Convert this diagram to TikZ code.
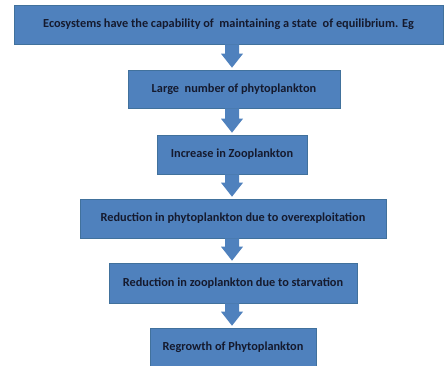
\documentclass[tikz,border=0pt]{standalone}
\usepackage{fontspec}
\setmainfont{Carlito}
\usetikzlibrary{calc}
\definecolor{boxblue}{HTML}{4F81BD}
\definecolor{boxedge}{HTML}{41719C}
\definecolor{txt}{HTML}{151A2E}
\tikzset{
  flowbox/.style={rectangle, fill=boxblue, draw=boxedge, line width=0.6pt, inner sep=0pt,
    font=\bfseries\fontsize{12.3}{14}\selectfont, text=txt, anchor=center},
  blockarrow/.style={fill=boxblue}
}
\newcommand{\flowarrow}[2]{%
  \fill[blockarrow] let \p1=(#1.south), \p2=(#2.north) in
    (225pt,\y1) -- (239pt,\y1) -- (239pt,\y2+16pt) -- (243pt,\y2+16pt) --
    (232pt,\y2+2pt) -- (221pt,\y2+16pt) -- (225pt,\y2+16pt) -- cycle;}
\begin{document}
\begin{tikzpicture}[x=1pt,y=1pt]
\useasboundingbox (0,0) rectangle (444,-366);
\fill[white] (0,0) rectangle (444,-366);
\node[flowbox, minimum width=429pt, minimum height=39pt] (b1) at (228.5,-24.5)
  {Ecosystems have the capability of\ \ maintaining a state\ \ of equilibrium. Eg};
\node[flowbox, minimum width=212pt, minimum height=38pt] (b2) at (234,-89)
  {Large\ \ number of phytoplankton};
\node[flowbox, minimum width=150pt, minimum height=39pt] (b3) at (232,-154.5)
  {Increase in Zooplankton};
\node[flowbox, minimum width=306pt, minimum height=39pt] (b4) at (233,-218.5)
  {Reduction in phytoplankton due to overexploitation};
\node[flowbox, minimum width=248pt, minimum height=40pt] (b5) at (233,-283)
  {Reduction in zooplankton due to starvation};
\node[flowbox, minimum width=166pt, minimum height=38pt] (b6) at (233,-347)
  {Regrowth of Phytoplankton};
\flowarrow{b1}{b2}
\flowarrow{b2}{b3}
\flowarrow{b3}{b4}
\flowarrow{b4}{b5}
\flowarrow{b5}{b6}
\end{tikzpicture}
\end{document}
